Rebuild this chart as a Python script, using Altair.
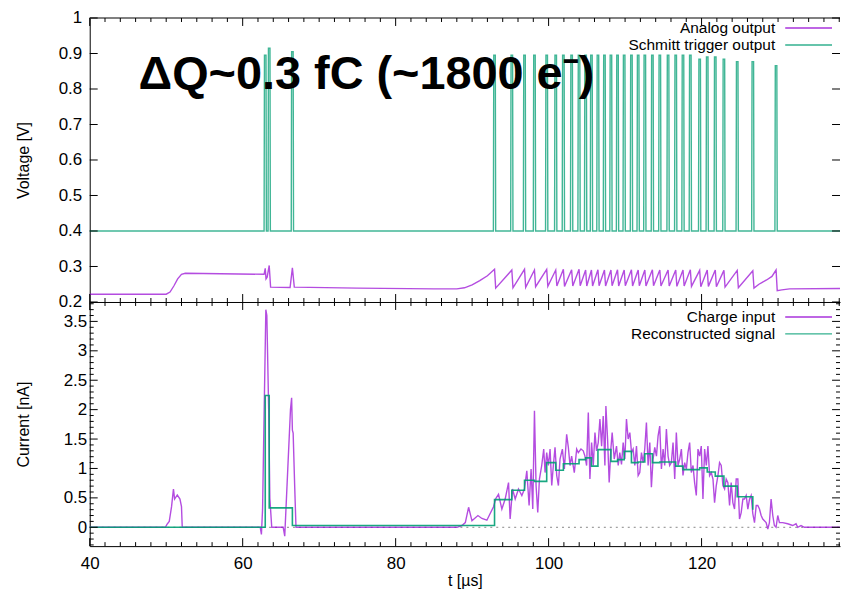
import altair as alt
import pandas as pd

# ------------------------------------------------------------------ data
X_MIN, X_MAX = 40, 138.1

spike_t = [62.95, 63.47, 66.5, 92.93, 95.19, 96.85, 98.15, 99.75, 100.93, 101.93,
           103.01, 103.98, 104.84, 105.6, 106.45, 107.3, 108.15, 109.01, 109.88,
           110.83, 111.71, 112.58, 113.57, 114.54, 115.62, 116.62, 117.57, 118.53,
           119.75, 120.74, 121.79, 122.92, 124.66, 126.7, 129.74]
spike_h = [0.895, 0.915, 0.905, 0.895, 0.895, 0.895, 0.895, 0.895, 0.895, 0.895,
           0.895, 0.895, 0.895, 0.895, 0.895, 0.895, 0.895, 0.895, 0.895,
           0.895, 0.895, 0.895, 0.895, 0.895, 0.895, 0.895, 0.895, 0.895,
           0.884, 0.89, 0.89, 0.884, 0.877, 0.877, 0.866]
SCHMITT_BASE = 0.4

analog_pre_t = [40, 50.0, 50.5, 51.0, 51.5, 52.0, 52.5, 62.8, 62.95, 63.05, 63.2,
                63.47, 63.65, 66.2, 66.5, 66.75, 75.0, 85.0, 88.0, 89.0, 90.0, 91.0, 92.0]
analog_pre_v = [0.222, 0.222, 0.228, 0.245, 0.265, 0.278, 0.281, 0.278, 0.295, 0.265, 0.27,
                0.303, 0.242, 0.241, 0.296, 0.242, 0.239, 0.237, 0.237, 0.24, 0.248, 0.26, 0.274]
analog_peak = [0.292, 0.29, 0.292, 0.29, 0.292, 0.29, 0.292, 0.291, 0.292, 0.29,
               0.29, 0.291, 0.29, 0.29, 0.291, 0.29, 0.291, 0.29, 0.29, 0.291,
               0.29, 0.29, 0.29, 0.29, 0.291, 0.289, 0.29, 0.29, 0.289, 0.289, 0.288, 0.29]
analog_trough = [0.239, 0.24, 0.241, 0.243, 0.244, 0.245, 0.244, 0.245, 0.246, 0.245,
                 0.245, 0.246, 0.245, 0.246, 0.245, 0.246, 0.245, 0.246, 0.245, 0.246,
                 0.245, 0.245, 0.244, 0.245, 0.244, 0.243, 0.244, 0.243, 0.242, 0.24, 0.239, 0.232]
analog_post_t = [127.5, 128.5, 129.2, 130.5, 131.5, 138.1]
analog_post_v = [0.25, 0.262, 0.272, 0.234, 0.237, 0.238]

charge_t = [40, 49.9, 50.1, 50.4, 50.7, 50.95, 51.1, 51.45, 51.8, 52.0, 52.1,
            62.3, 62.45, 62.6, 62.8, 63.03, 63.16, 63.4, 63.55, 63.8,
            65.3, 65.5, 65.9, 66.25, 66.4, 66.5, 66.6, 66.8, 66.97,
            88.02, 88.67, 89.11, 89.54, 89.98, 90.76, 91.28, 91.93, 92.8, 93.1,
            93.45, 93.89, 94.32, 94.76, 94.97, 95.28, 95.63, 96.06, 96.5, 96.84,
            97.15, 97.45, 97.71, 97.93, 98.15, 98.36, 98.58, 98.8, 99.1, 99.36,
            99.54, 99.75, 99.97, 100.19, 100.41, 100.62, 100.84, 101.06, 101.28, 101.49,
            101.8, 102.06, 102.36, 102.58, 102.8, 103.01, 103.36, 103.67, 103.88, 104.23,
            104.53, 104.75, 104.97, 105.19, 105.4, 105.62, 105.84, 106.06, 106.27, 106.49,
            106.71, 106.93, 107.14, 107.36, 107.49, 107.71, 107.92, 108.14, 108.31, 108.58,
            108.88, 109.1, 109.31, 109.53, 109.75, 109.97, 110.18, 110.4, 110.62, 110.84,
            111.05, 111.27, 111.49, 111.71, 111.92, 112.14, 112.36, 112.57, 112.79, 113.01,
            113.23, 113.44, 113.66, 113.88, 114.1, 114.31, 114.53, 114.75, 114.97, 115.18,
            115.4, 115.62, 115.83, 116.05, 116.27, 116.49, 116.7, 116.92, 117.14, 117.36,
            117.57, 117.79, 118.01, 118.22, 118.44, 118.66, 118.88, 119.09, 119.31, 119.53,
            119.75, 119.96, 120.18, 120.4, 120.62, 120.83, 121.05, 121.27, 121.49, 121.7,
            121.92, 122.14, 122.35, 122.57, 122.79, 123.01, 123.22, 123.44, 123.66, 123.87,
            124.09, 124.31, 124.53, 124.74, 124.96, 125.18, 125.4, 125.61, 125.83, 126.05,
            126.27, 126.48, 126.7, 126.92, 127.14, 127.35, 127.57, 127.79, 128.0, 128.44,
            128.66, 128.87, 129.09, 129.31, 129.52, 129.74, 129.96, 130.18, 130.61, 131.26,
            131.91, 132.35, 132.57, 133.0, 133.44, 138.1]
charge_i = [0, 0, 0.05, 0.1, 0.35, 0.65, 0.48, 0.55, 0.48, 0.35, 0.0,
            0.0, -0.12, 0.3, 1.9, 3.7, 3.6, 2.0, 0.5, 0.0,
            0.0, -0.15, 1.0, 2.0, 2.2, 1.65, 1.6, 0.7, 0.0,
            0.0, 0.03, 0.08, 0.34, 0.11, 0.2, 0.15, 0.12, 0.35, 0.49,
            0.56, 0.31, 0.48, 0.76, 0.14, 0.65, 0.48, 0.65, 0.54, 0.65,
            0.96, 0.37, 0.99, 0.31, 1.98, 0.71, 0.25, 0.82, 1.05, 1.33,
            0.93, 1.27, 1.05, 1.33, 0.71, 1.05, 1.36, 0.88, 0.71, 1.16,
            1.33, 0.99, 1.58, 1.36, 1.05, 1.21, 0.93, 1.33, 1.27, 1.33,
            1.3, 1.21, 1.05, 1.95, 0.82, 1.44, 1.05, 1.61, 1.3, 1.44,
            1.84, 1.38, 1.89, 1.05, 2.06, 1.5, 0.76, 1.33, 1.61, 1.16,
            1.38, 1.05, 1.27, 1.07, 1.44, 1.16, 1.84, 1.5, 1.61, 1.27,
            1.33, 1.05, 1.38, 0.88, 0.93, 1.27, 1.1, 1.33, 1.78, 1.05,
            1.44, 0.68, 1.16, 1.36, 1.21, 1.55, 1.72, 0.99, 1.33, 1.05,
            1.67, 1.21, 1.05, 1.1, 1.44, 0.82, 1.61, 1.05, 1.16, 1.33,
            0.88, 1.1, 0.99, 1.27, 1.44, 0.93, 1.05, 0.76, 0.54, 1.33,
            1.21, 1.38, 0.48, 1.33, 1.05, 1.38, 0.88, 0.93, 0.82, 0.42,
            0.71, 0.88, 1.1, 1.05, 0.71, 0.65, 0.82, 0.76, 0.37, 0.76,
            0.42, 0.31, 0.82, 0.82, 0.14, 0.25, 0.48, 0.48, 0.54, 0.31,
            0.48, 0.54, 0.23, 0.08, 0.37, 0.37, 0.31, 0.2, 0.14, 0.08,
            -0.03, 0.08, 0.48, 0.2, 0.03, 0.0, 0.2, 0.08, 0.08, 0.06,
            0.03, 0.06, 0.0, 0.03, 0.0, 0.0]

recon_t = [40, 62.95, 63.47, 66.5, 92.93, 95.19, 96.85, 98.15, 99.75, 100.93, 101.93,
           103.01, 103.98, 104.84, 105.6, 106.45, 107.3, 108.15, 109.01, 109.88, 110.83,
           111.71, 112.58, 113.57, 114.54, 115.62, 116.62, 117.57, 118.53, 119.75, 120.74,
           121.79, 122.92, 124.66, 126.7]
recon_i = [0.0, 2.24, 0.33, 0.03, 0.47, 0.63, 0.80, 0.78, 1.10, 0.97, 1.08,
           1.08, 1.15, 1.18, 1.04, 1.32, 1.32, 1.12, 1.15, 1.29, 1.10,
           1.11, 1.25, 1.10, 1.11, 1.11, 1.04, 0.98, 0.98, 1.01, 0.94,
           0.87, 0.70, 0.52, 0.30]

x_major = [40, 60, 80, 100, 120]
x_minor = [42, 44, 46, 48, 50, 52, 54, 56, 58, 62, 64, 66, 68, 70, 72, 74, 76, 78,
           82, 84, 86, 88, 90, 92, 94, 96, 98, 102, 104, 106, 108, 110, 112, 114, 116,
           118, 122, 124, 126, 128, 130, 132, 134, 136, 138]
v_major = [0.2, 0.3, 0.4, 0.5, 0.6, 0.7, 0.8, 0.9, 1.0]
i_major = [0, 0.5, 1, 1.5, 2, 2.5, 3, 3.5]
i_minor = [-0.3, -0.2, -0.1, 0.1, 0.2, 0.3, 0.4, 0.6, 0.7, 0.8, 0.9, 1.1, 1.2, 1.3, 1.4,
           1.6, 1.7, 1.8, 1.9, 2.1, 2.2, 2.3, 2.4, 2.6, 2.7, 2.8, 2.9, 3.1, 3.2, 3.3,
           3.4, 3.6, 3.7, 3.8]

# ------------------------------------------------------------------ tables
sch_rows = [(X_MIN, SCHMITT_BASE)]
for t, h in zip(spike_t, spike_h):
    sch_rows += [(t - 0.15, SCHMITT_BASE), (t - 0.1, h), (t + 0.1, h), (t + 0.15, SCHMITT_BASE)]
sch_rows.append((X_MAX, SCHMITT_BASE))
df_sch = pd.DataFrame(sch_rows, columns=["t", "v"])

an_rows = list(zip(analog_pre_t, analog_pre_v))
for t, p, tr in zip(spike_t[3:], analog_peak, analog_trough):
    an_rows += [(t, p), (t + 0.15, tr)]
    if t == 126.7:
        an_rows += list(zip(analog_post_t[:3], analog_post_v[:3]))
an_rows += list(zip(analog_post_t[3:], analog_post_v[3:]))
df_an = pd.DataFrame(an_rows, columns=["t", "v"])

df_charge = pd.DataFrame({"t": charge_t, "i": charge_i})
df_recon = pd.DataFrame({"t": recon_t, "i": recon_i})

# ------------------------------------------------------------------ style
W = 753
H_TOP = 285
H_BOT = 245
PURPLE = "#9400d3"
GREEN = "#009e73"
FONT = "Liberation Sans"
TK = 8
TKm = 4

xscale = alt.Scale(domain=[X_MIN, X_MAX], nice=False, zero=False)
vscale = alt.Scale(domain=[0.2, 1.0], nice=False, zero=False)
iscale = alt.Scale(domain=[-0.32, 3.83], nice=False, zero=False)

ax_x_top = alt.Axis(labels=False, ticks=False, domain=True, domainColor="black", grid=False)
ax_x_bot = alt.Axis(values=x_major, format="d", labelFlush=False, labelFontSize=17, labelPadding=9,
                    ticks=False, domain=True, domainColor="black", grid=False,
                    labelFont=FONT, labelColor="black", titleFont=FONT, titleFontSize=16,
                    titleFontWeight="normal", titleColor="black", titlePadding=2)
ax_v = alt.Axis(values=v_major, format="~g", labelFontSize=17, labelPadding=8, ticks=False,
                domain=True, domainColor="black", grid=False, labelFont=FONT, labelColor="black",
                titleFont=FONT, titleFontSize=16, titleFontWeight="normal", titleColor="black",
                titlePadding=27)
ax_i = alt.Axis(values=i_major, format="~g", labelFontSize=17, labelPadding=3, ticks=False,
                domain=True, domainColor="black", grid=False, labelFont=FONT, labelColor="black",
                titleFont=FONT, titleFontSize=16, titleFontWeight="normal", titleColor="black",
                titlePadding=32)


def X(ax, title):
    return alt.X("t:Q", scale=xscale, axis=ax, title=title)


def ticks_x(ax, title, H):
    layers = []
    for vals, L in ((x_major, TK), (x_minor, TKm)):
        d = pd.DataFrame({"t": vals})
        layers.append(alt.Chart(d).mark_rule(color="black", strokeWidth=1).encode(
            x=X(ax, title), y=alt.value(H), y2=alt.value(H - L)))
        layers.append(alt.Chart(d).mark_rule(color="black", strokeWidth=1).encode(
            x=X(ax, title), y=alt.value(0), y2=alt.value(L)))
    return layers


def ticks_y(field, scale, ax, title, groups):
    layers = []
    for vals, L in groups:
        d = pd.DataFrame({field: vals})
        enc_y = alt.Y(field + ":Q", scale=scale, axis=ax, title=title)
        layers.append(alt.Chart(d).mark_rule(color="black", strokeWidth=1).encode(
            y=enc_y, x=alt.value(0), x2=alt.value(L)))
        layers.append(alt.Chart(d).mark_rule(color="black", strokeWidth=1).encode(
            y=enc_y, x=alt.value(W - L), x2=alt.value(W)))
    return layers


def legend(label, color, ypos):
    one = pd.DataFrame({"k": [0]})
    txt = alt.Chart(one).mark_text(text=label, align="right", baseline="middle", font=FONT,
                                   fontSize=15.5, color="black").encode(
        x=alt.value(688), y=alt.value(ypos))
    ln = alt.Chart(one).mark_rule(color=color, strokeWidth=1.5, opacity=0.8).encode(
        x=alt.value(698), x2=alt.value(745), y=alt.value(ypos))
    return [txt, ln]


VY = alt.Y("v:Q", scale=vscale, axis=ax_v, title="Voltage [V]")
an_line = alt.Chart(df_an).mark_line(color=PURPLE, strokeWidth=1.4, opacity=0.7).encode(
    x=X(ax_x_top, None), y=VY, order="t:Q")
sch_line = alt.Chart(df_sch).mark_line(color=GREEN, strokeWidth=1.4, opacity=0.75).encode(
    x=X(ax_x_top, None), y=VY)
one = pd.DataFrame({"k": [0]})
top_border = alt.Chart(one).mark_rule(color="black", strokeWidth=1).encode(
    x=alt.value(0), x2=alt.value(W), y=alt.value(0))
big_text = alt.Chart(one).mark_text(text="ΔQ~0.3 fC (~1800 e⁻)", align="left", baseline="alphabetic",
                                    font=FONT, fontSize=47, fontWeight="bold", color="black").encode(
    x=alt.value(49), y=alt.value(71))

top = alt.layer(
    an_line, sch_line, top_border, big_text,
    *ticks_x(ax_x_top, None, H_TOP),
    *ticks_y("v", vscale, ax_v, "Voltage [V]", [(v_major, TK)]),
    *legend("Analog output", PURPLE, 10),
    *legend("Schmitt trigger output", GREEN, 27),
).properties(width=W, height=H_TOP)

IY = alt.Y("i:Q", scale=iscale, axis=ax_i, title="Current [nA]")
zero_line = alt.Chart(pd.DataFrame({"i": [0]})).mark_rule(color="#888888", strokeWidth=1,
                                                          strokeDash=[2, 4]).encode(
    y=IY, x=alt.value(0), x2=alt.value(W))
charge_line = alt.Chart(df_charge).mark_line(color=PURPLE, strokeWidth=1.4, opacity=0.7).encode(
    x=X(ax_x_bot, "t [µs]"), y=IY)
recon_line = alt.Chart(df_recon).mark_line(color=GREEN, strokeWidth=1.6, opacity=0.9,
                                           interpolate="step-after").encode(
    x=X(ax_x_bot, "t [µs]"), y=IY)

bottom = alt.layer(
    zero_line, charge_line, recon_line,
    *ticks_x(ax_x_bot, "t [µs]", H_BOT),
    *ticks_y("i", iscale, ax_i, "Current [nA]", [(i_major, TK), (i_minor, TKm)]),
    *legend("Charge input", PURPLE, 15),
    *legend("Reconstructed signal", GREEN, 32),
).properties(width=W, height=H_BOT)

chart = alt.vconcat(top, bottom, spacing=0, bounds="flush").properties(
    padding={"left": 7, "top": 0, "right": 0, "bottom": 0},
    background="white",
).configure_view(stroke=None)

chart.save("out.html", embed_options={"renderer": "svg", "actions": False})
